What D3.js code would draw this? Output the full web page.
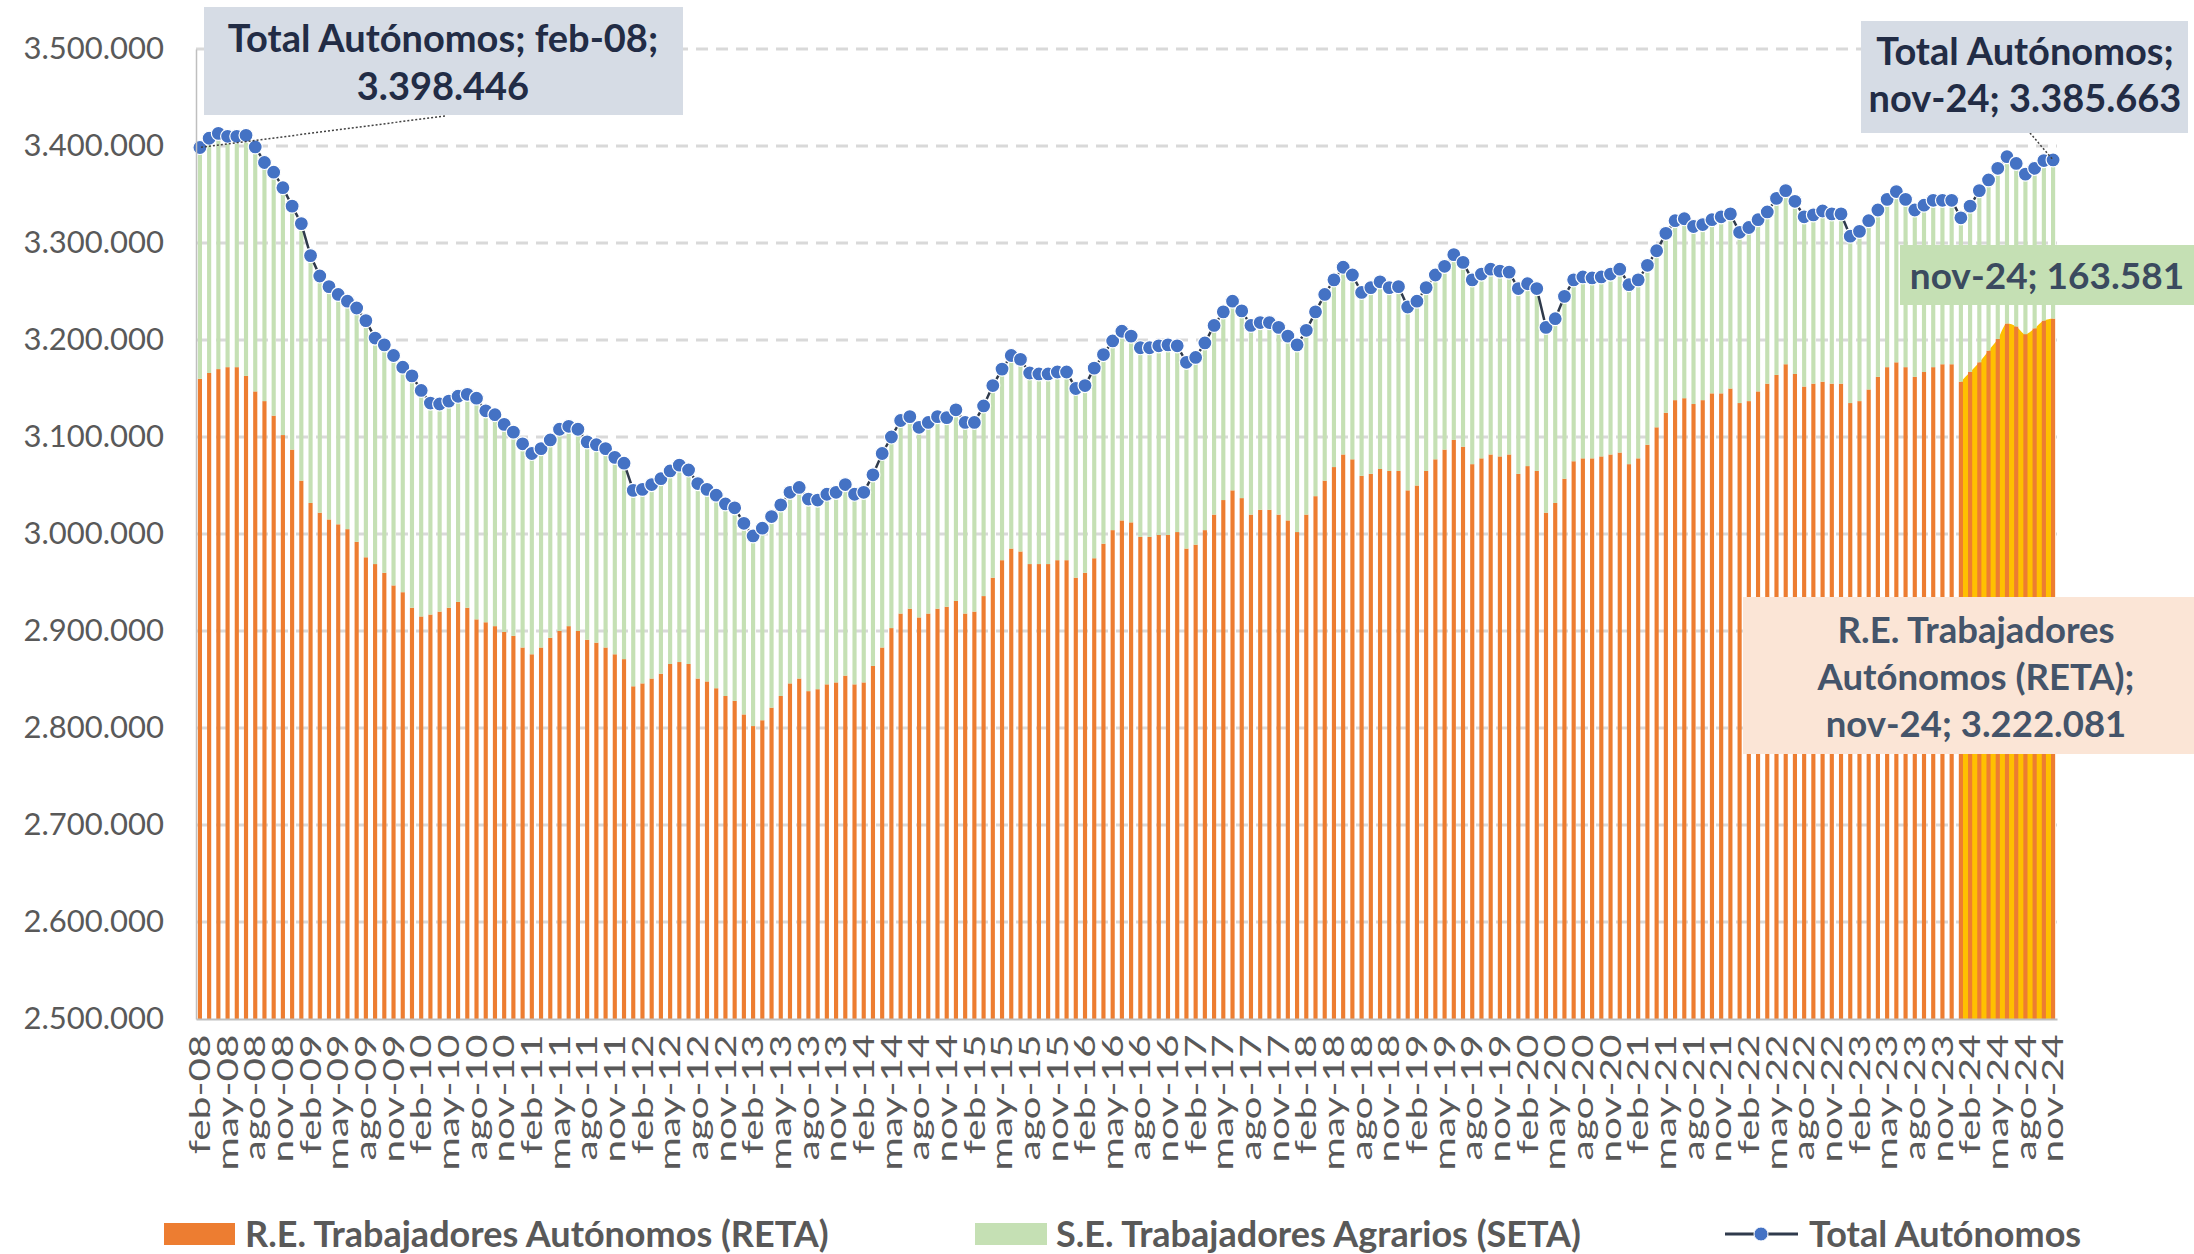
<!DOCTYPE html>
<html>
<head>
<meta charset="utf-8">
<script src="https://cdn.jsdelivr.net/npm/d3@7"></script>
<style>
body { margin: 0; background: #fff; }
svg { display: block; }
text { font-family: Lato, "Open Sans", sans-serif; }
</style>
</head>
<body>
<svg id="chart" width="2194" height="1254"></svg>
<script>
// meses en castellano para el eje X
const mesesAbr = ["ene", "feb", "mar", "abr", "may", "jun", "jul", "ago", "sep", "oct", "nov", "dic"];
let fechas = [];
for (let y = 2008; y <= 2024; y++) {
	for (let m = 0; m < 12; m++) {
		if (y == 2008 && m < 1) continue;
		if (y == 2024 && m > 10) continue;
		fechas.push(mesesAbr[m] + "-" + String(y).slice(2));
	}
}

// afiliados, en miles
const reta = [
	3160, 3166, 3170, 3172, 3172, 3163, 3147, 3137, 3122, 3102, 3087,
	3055, 3032, 3022, 3015, 3010, 3005, 2992, 2976, 2969, 2960, 2947, 2940,
	2924, 2915, 2917, 2920, 2924, 2930, 2924, 2912, 2909, 2905, 2899, 2895,
	2883, 2876, 2883, 2893, 2900, 2905, 2900, 2891, 2888, 2883, 2876, 2871,
	2843, 2846, 2851, 2856, 2866, 2868, 2866, 2851, 2848, 2841, 2833, 2828,
	2814, 2802, 2808, 2821, 2833, 2846, 2851, 2838, 2840, 2845, 2847, 2854,
	2845, 2847, 2864, 2883, 2903, 2918, 2923, 2914, 2918, 2923, 2925, 2931,
	2918, 2920, 2936, 2955, 2973, 2985, 2982, 2969, 2969, 2969, 2973, 2973,
	2955, 2960, 2975, 2990, 3004, 3014, 3012, 2997, 2997, 2999, 2999, 3002,
	2985, 2989, 3004, 3020, 3035, 3045, 3037, 3020, 3025, 3025, 3020, 3014,
	3002, 3020, 3039, 3055, 3069, 3082, 3077, 3060, 3062, 3067, 3065, 3065,
	3045, 3050, 3065, 3077, 3087, 3097, 3090, 3072, 3078, 3082, 3080, 3082,
	3062, 3070, 3065, 3022, 3032, 3057, 3075, 3078, 3078, 3080, 3082, 3084,
	3072, 3078, 3092, 3110, 3125, 3138, 3140, 3134, 3138, 3145, 3145, 3150,
	3135, 3137, 3147, 3155, 3164, 3175, 3165, 3152, 3155, 3157, 3155, 3155,
	3135, 3137, 3149, 3162, 3172, 3177, 3172, 3162, 3167, 3172, 3175, 3175,
	3157, 3167, 3177, 3189, 3201, 3217, 3214, 3206, 3212, 3220, 3222.081
];
const seta = [
	238.4, 242, 243, 238, 238, 248, 252, 246, 251, 255, 251,
	265, 255, 244, 240, 237, 235, 241, 244, 233, 235, 237, 232,
	239, 233, 218, 214, 213, 212, 220, 228, 218, 218, 214, 210,
	210, 207, 205, 204, 208, 206, 208, 204, 204, 205, 203, 202,
	202, 200, 200, 201, 199, 203, 200, 201, 198, 199, 198, 199,
	197, 196, 198, 197, 197, 197, 197, 198, 195, 196, 196, 197,
	196, 196, 197, 200, 197, 199, 198, 196, 197, 198, 195, 197,
	197, 195, 196, 198, 197, 199, 198, 197, 196, 196, 194, 194,
	195, 193, 196, 195, 195, 195, 192, 195, 195, 195, 196, 192,
	192, 193, 193, 195, 194, 195, 193, 195, 193, 193, 193, 190,
	193, 190, 190, 192, 193, 193, 190, 189, 192, 193, 189, 190,
	189, 190, 189, 190, 189, 191, 190, 190, 190, 191, 191, 188,
	191, 188, 188, 191, 190, 188, 187, 187, 186, 185, 186, 189,
	185, 184, 185, 182, 185, 185, 185, 183, 181, 179, 182, 180,
	176, 179, 177, 177, 182, 179, 178, 175, 174, 176, 175, 175,
	172, 175, 174, 172, 173, 176, 173, 172, 172, 172, 169, 169,
	169, 171, 177, 176, 176, 172, 168, 165, 165, 165, 163.581
];
const total = [
	3398.446, 3408, 3413, 3410, 3410, 3411, 3399, 3383, 3373, 3357, 3338,
	3320, 3287, 3266, 3255, 3247, 3240, 3233, 3220, 3202, 3195, 3184, 3172,
	3163, 3148, 3135, 3134, 3137, 3142, 3144, 3140, 3127, 3123, 3113, 3105,
	3093, 3083, 3088, 3097, 3108, 3111, 3108, 3095, 3092, 3088, 3079, 3073,
	3045, 3046, 3051, 3057, 3065, 3071, 3066, 3052, 3046, 3040, 3031, 3027,
	3011, 2998, 3006, 3018, 3030, 3043, 3048, 3036, 3035, 3041, 3043, 3051,
	3041, 3043, 3061, 3083, 3100, 3117, 3121, 3110, 3115, 3121, 3120, 3128,
	3115, 3115, 3132, 3153, 3170, 3184, 3180, 3166, 3165, 3165, 3167, 3167,
	3150, 3153, 3171, 3185, 3199, 3209, 3204, 3192, 3192, 3194, 3195, 3194,
	3177, 3182, 3197, 3215, 3229, 3240, 3230, 3215, 3218, 3218, 3213, 3204,
	3195, 3210, 3229, 3247, 3262, 3275, 3267, 3249, 3254, 3260, 3254, 3255,
	3234, 3240, 3254, 3267, 3276, 3288, 3280, 3262, 3268, 3273, 3271, 3270,
	3253, 3258, 3253, 3213, 3222, 3245, 3262, 3265, 3264, 3265, 3268, 3273,
	3257, 3262, 3277, 3292, 3310, 3323, 3325, 3317, 3319, 3324, 3327, 3330,
	3311, 3316, 3324, 3332, 3346, 3354, 3343, 3327, 3329, 3333, 3330, 3330,
	3307, 3312, 3323, 3334, 3345, 3353, 3345, 3334, 3339, 3344, 3344, 3344,
	3326, 3338, 3354, 3365, 3377, 3389, 3382, 3371, 3377, 3385, 3385.663
];
// meses resaltados en amarillo (2024)
const destacados = ["ene-24", "feb-24", "mar-24", "abr-24", "may-24", "jun-24", "jul-24", "ago-24", "sep-24", "oct-24", "nov-24"];
const yTicks = [2500, 2600, 2700, 2800, 2900, 3000, 3100, 3200, 3300, 3400, 3500];
const series = ["R.E. Trabajadores Autónomos (RETA)", "S.E. Trabajadores Agrarios (SETA)", "Total Autónomos"];

const es = d3.formatLocale({decimal: ",", thousands: ".", grouping: [3], currency: ["", "€"]});
const fmt = es.format(",d");

let svg = d3.select("#chart");
let area = {left: 196, right: 2057, top: 49, bottom: 1019};

let scaleX = d3.scaleBand()
	.domain(fechas)
	.range([area.left, area.right])
	.paddingInner(0.55)
	.paddingOuter(0.2);
let scaleY = d3.scaleLinear()
	.domain([2500, 3500])
	.range([area.bottom, area.top]);
const cx = d => scaleX(d) + scaleX.bandwidth() / 2;

// rejilla discontinua
svg.append("g")
	.selectAll("line")
	.data(yTicks.filter(d => d > 2500))
	.enter()
	.append("line")
	.attr("x1", area.left)
	.attr("x2", area.right)
	.attr("y1", d => scaleY(d))
	.attr("y2", d => scaleY(d))
	.style("stroke", "#d9d9d9")
	.style("stroke-width", 3)
	.style("stroke-dasharray", "12,8");

// area amarilla de 2024
let tabla = fechas.map((f, i) => ({fecha: f, reta: reta[i], seta: seta[i], total: total[i]}));
let tabla24 = tabla.filter(d => destacados.includes(d.fecha));
let areaF = d3.area()
	.x(d => cx(d.fecha))
	.y0(scaleY(2500))
	.y1(d => scaleY(d.reta))
	.curve(d3.curveMonotoneX);
svg.append("path")
	.datum(tabla24)
	.attr("d", areaF)
	.style("fill", "#ffc000");

// barras apiladas
let stack = d3.stack().keys(["reta", "seta"])(tabla);
let colores = ["#ed7d31", "#c5e0b4"];
stack.forEach((capa, k) => {
	svg.append("g")
		.selectAll("rect")
		.data(capa)
		.enter()
		.append("rect")
		.attr("x", d => scaleX(d.data.fecha))
		.attr("width", scaleX.bandwidth())
		.attr("y", d => scaleY(d[1]))
		.attr("height", d => scaleY(Math.max(d[0], 2500)) - scaleY(d[1]))
		.style("fill", colores[k]);
});

// linea del total
let lineF = d3.line()
	.x(d => cx(d.fecha))
	.y(d => scaleY(d.total));
svg.append("path")
	.datum(tabla)
	.attr("d", lineF)
	.style("fill", "none")
	.style("stroke", "#2f3a4c")
	.style("stroke-width", 2.5);
svg.append("g")
	.selectAll("circle")
	.data(tabla)
	.enter()
	.append("circle")
	.attr("cx", d => cx(d.fecha))
	.attr("cy", d => scaleY(d.total))
	.attr("r", 7)
	.style("fill", "#4472c4")
	.style("stroke", "#fff")
	.style("stroke-width", 1.2);

// ejes
let axisY = d3.axisLeft(scaleY).tickValues(yTicks).tickSize(0).tickPadding(32).tickFormat(d => fmt(d * 1000));
let gy = svg.append("g").attr("transform", `translate(${area.left},0)`).call(axisY);
gy.select(".domain").style("stroke", "#bfbfbf").style("stroke-width", 1.5);
gy.selectAll("text").style("font-size", "31px").style("fill", "#595959");

let axisX = d3.axisBottom(scaleX).tickValues(fechas.filter((d, i) => i % 3 == 0)).tickSize(0);
let gx = svg.append("g").attr("transform", `translate(0,${area.bottom})`).call(axisX);
gx.select(".domain").style("stroke", "#bfbfbf").style("stroke-width", 2);
gx.selectAll("text")
	.attr("transform", "rotate(-90) scale(1.4,1)")
	.attr("x", -11)
	.attr("y", 0)
	.attr("dy", "0.35em")
	.style("text-anchor", "end")
	.style("font-size", "29px")
	.style("fill", "#595959");

// etiquetas de datos
function caja(x, y, w, h, fondo, lineas, tx, ty0, paso, color, tam) {
	svg.append("rect").attr("x", x).attr("y", y).attr("width", w).attr("height", h).style("fill", fondo);
	lineas.forEach((t, i) => {
		svg.append("text")
			.attr("x", tx)
			.attr("y", ty0 + i * paso)
			.attr("text-anchor", "middle")
			.style("font-size", tam + "px")
			.style("font-weight", "bold")
			.style("fill", color)
			.text(t);
	});
}
function guia(x1, y1, x2, y2) {
	svg.append("line")
		.attr("x1", x1).attr("y1", y1).attr("x2", x2).attr("y2", y2)
		.style("stroke", "#404040")
		.style("stroke-width", 1.5)
		.style("stroke-dasharray", "2,2");
}
let primero = tabla[0], ultimo = tabla[tabla.length - 1];
guia(445, 116, cx(primero.fecha), scaleY(primero.total));
caja(204, 7, 479, 108, "#d6dce5",
	["Total Autónomos; " + primero.fecha + ";", fmt(primero.total * 1000)],
	443, 52, 48, "#222c45", 38);
guia(2030, 133, cx(ultimo.fecha), scaleY(ultimo.total));
caja(1861, 21, 327, 112, "#d6dce5",
	["Total Autónomos;", ultimo.fecha + "; " + fmt(Math.round(ultimo.total * 1000))],
	2025, 65, 47, "#222c45", 38);
caja(1900, 245, 294, 60, "#c5e0b4",
	[ultimo.fecha + "; " + fmt(Math.round(ultimo.seta * 1000))],
	2047, 289, 0, "#3b4a5f", 37);
caja(1743, 597, 451, 157, "#fbe5d6",
	["R.E. Trabajadores", "Autónomos (RETA);", ultimo.fecha + "; " + fmt(Math.round(ultimo.reta * 1000))],
	1976, 643, 47, "#44546a", 36.5);

// leyenda
let ley = svg.append("g").attr("transform", "translate(0,1234)");
ley.append("rect").attr("x", 164).attr("y", -11).attr("width", 71).attr("height", 22).style("fill", colores[0]);
ley.append("rect").attr("x", 975).attr("y", -11).attr("width", 72).attr("height", 22).style("fill", colores[1]);
ley.append("line").attr("x1", 1725).attr("x2", 1798).attr("y1", 0).attr("y2", 0).style("stroke", "#2f3a4c").style("stroke-width", 3);
ley.append("circle").attr("cx", 1761).attr("cy", 0).attr("r", 7).style("fill", "#4472c4").style("stroke", "#fff");
[[245, series[0]], [1056, series[1]], [1809, series[2]]].forEach(p => {
	ley.append("text")
		.attr("x", p[0])
		.attr("y", 0)
		.attr("dy", "0.36em")
		.style("font-size", "36px")
		.style("font-weight", "bold")
		.style("fill", "#595959")
		.text(p[1]);
});
</script>
</body>
</html>
